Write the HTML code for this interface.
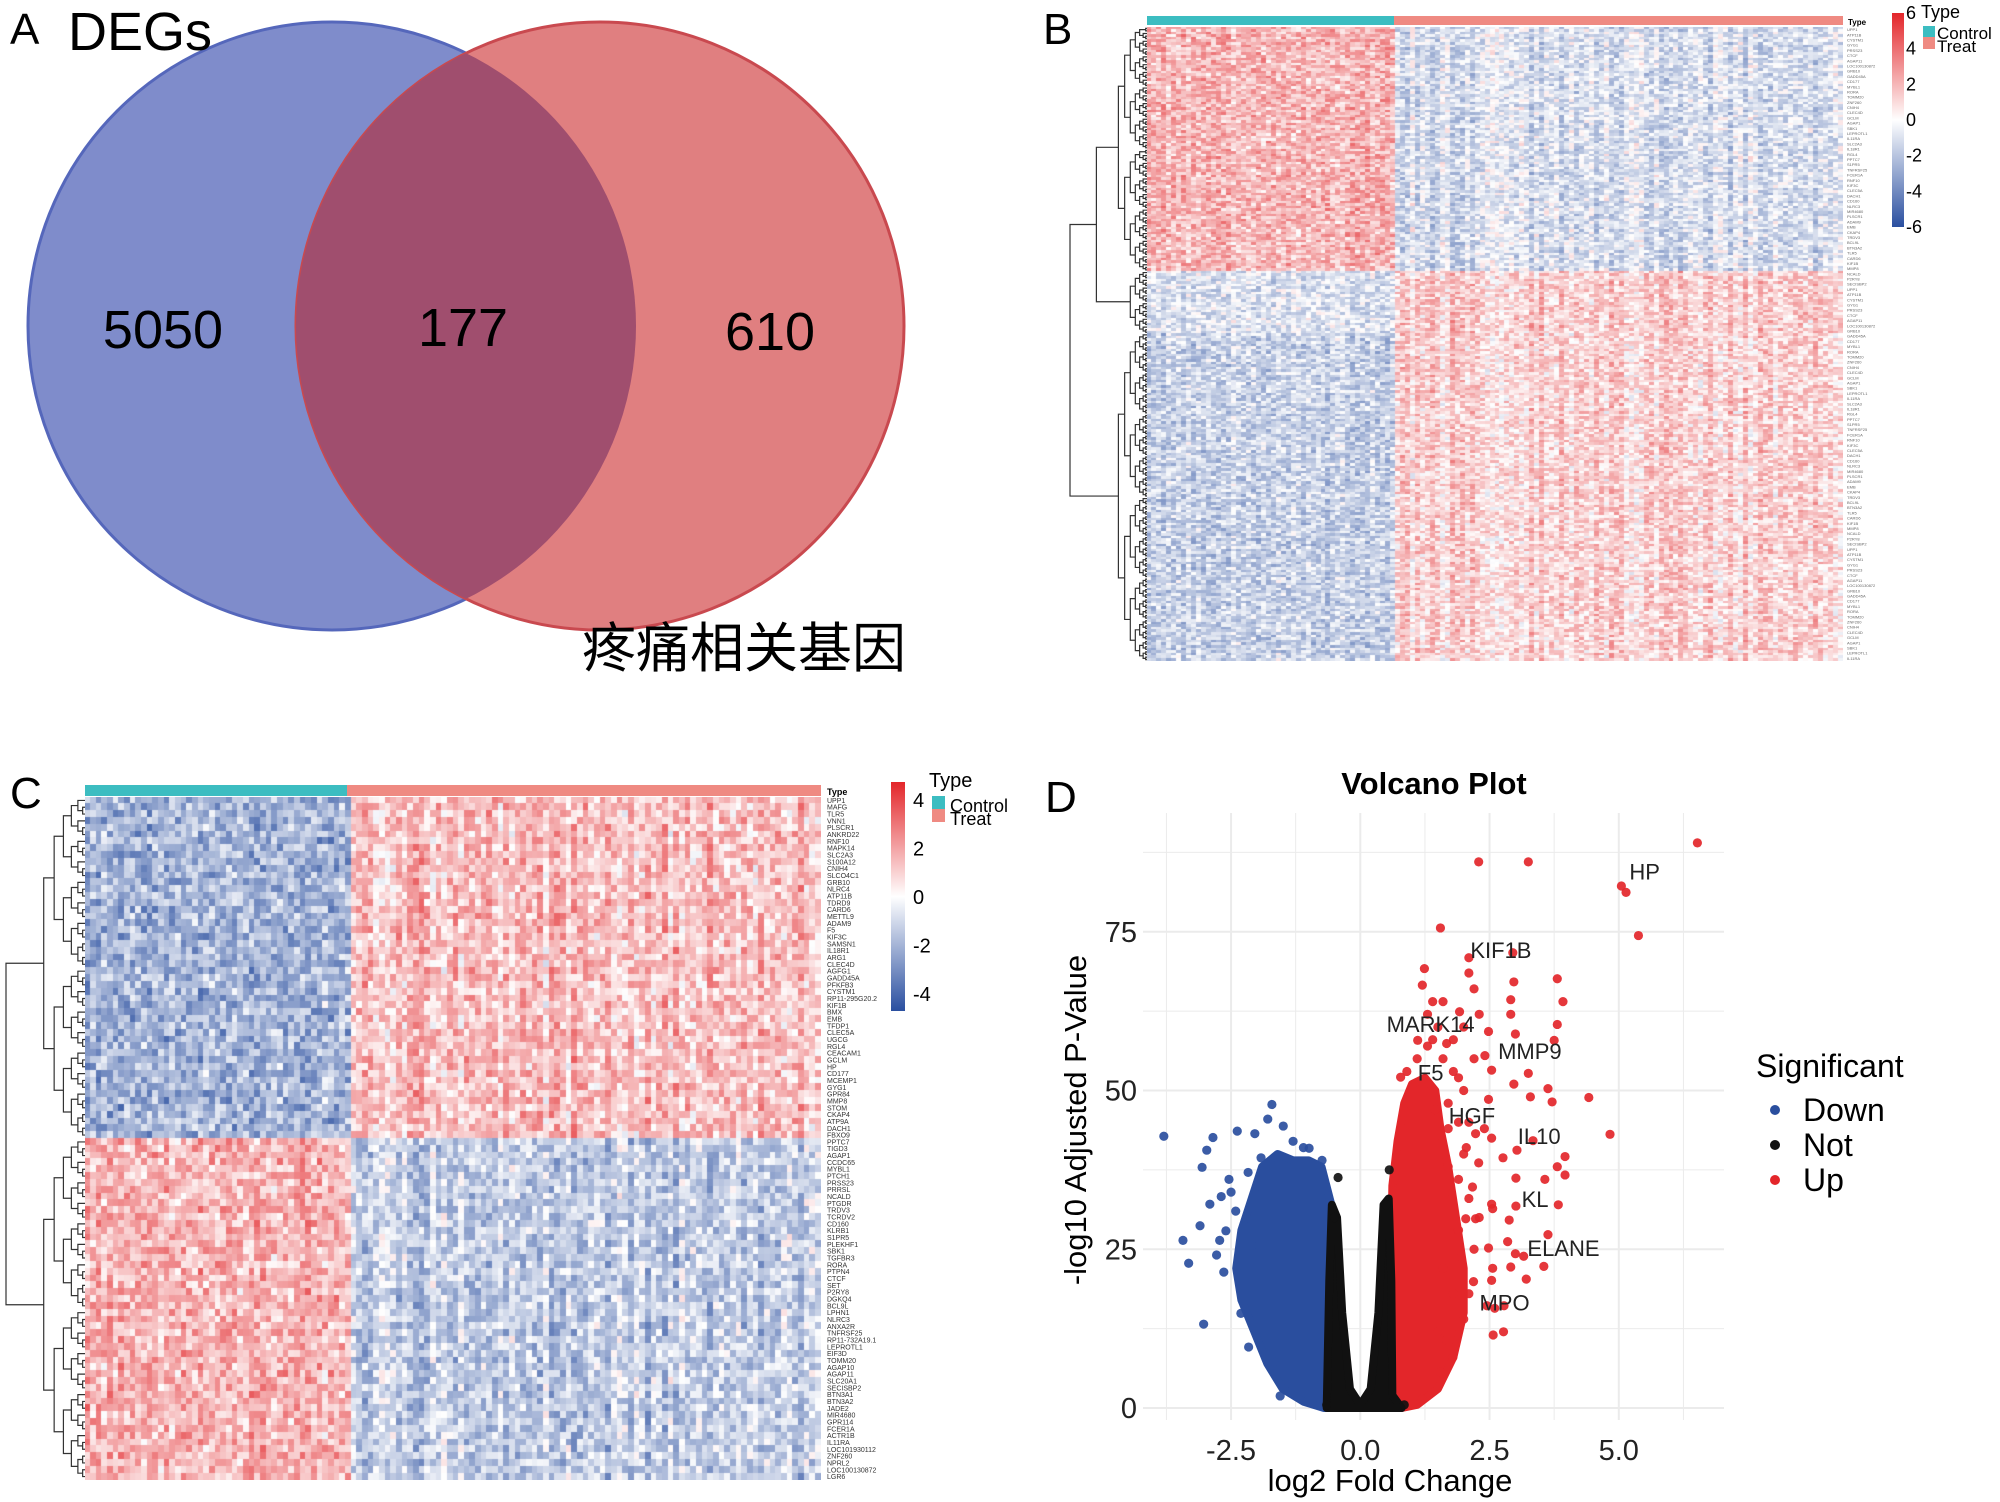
<!DOCTYPE html>
<html><head><meta charset="utf-8">
<style>
html,body{margin:0;padding:0;background:#fff;}
#root{position:relative;width:2000px;height:1502px;overflow:hidden;background:#fff;font-family:"Liberation Sans","Noto Sans CJK SC",sans-serif;}
canvas{position:absolute;}
svg{position:absolute;left:0;top:0;}
</style></head>
<body>
<div id="root">
<canvas id="hmB" style="left:1147px;top:27px" width="696" height="634"></canvas>
<canvas id="hmC" style="left:85px;top:797px" width="736" height="683"></canvas>
<svg id="main" width="2000" height="1502">
<defs>
<linearGradient id="cbar" x1="0" y1="0" x2="0" y2="1">
<stop offset="0" stop-color="#e3262a"/><stop offset="0.5" stop-color="#ffffff"/><stop offset="1" stop-color="#2a4fa0"/>
</linearGradient>
<clipPath id="clipBlue"><circle cx="332" cy="326" r="304"/></clipPath>
</defs>
<g>
<circle cx="332" cy="326" r="304" fill="#7f8ccb" stroke="#5567bb" stroke-width="3"/>
<circle cx="600" cy="326" r="304" fill="#e07f80" stroke="#c9494f" stroke-width="3"/>
<circle cx="600" cy="326" r="304" fill="#a04e6e" clip-path="url(#clipBlue)"/>
<text x="10" y="44" font-size="44">A</text>
<text x="68" y="50" font-size="54">DEGs</text>
<text x="163" y="348" font-size="54" text-anchor="middle">5050</text>
<text x="463" y="346" font-size="54" text-anchor="middle">177</text>
<text x="770" y="350" font-size="54" text-anchor="middle">610</text>
<text x="582" y="667" font-size="54" font-family="'Liberation Sans','Noto Sans CJK SC',sans-serif">疼痛相关基因</text>
</g>
<text x="1043" y="44" font-size="44">B</text>
<text x="10" y="808" font-size="44">C</text>
<text x="1045" y="812" font-size="44">D</text>
<g id="bLayer"></g>
<g id="cLayer"></g>
<g id="dLayer"></g>
</svg>
</div>
<script>
const geneNamesC = ["UPP1","MAFG","TLR5","VNN1","PLSCR1","ANKRD22","RNF10","MAPK14","SLC2A3","S100A12","CNIH4","SLCO4C1","GRB10","NLRC4","ATP11B","TDRD9","CARD6","METTL9","ADAM9","F5","KIF3C","SAMSN1","IL18R1","ARG1","CLEC4D","AGFG1","GADD45A","PFKFB3","CYSTM1","RP11-295G20.2","KIF1B","BMX","EMB","TFDP1","CLEC5A","UGCG","RGL4","CEACAM1","GCLM","HP","CD177","MCEMP1","GYG1","GPR84","MMP8","STOM","CKAP4","ATP9A","DACH1","FBXO9","PPTC7","TIGD3","AGAP1","CCDC65","MYBL1","PTCH1","PRSS23","PRRSL","NCALD","PTGDR","TRDV3","TCRDV2","CD160","KLRB1","S1PR5","PLEKHF1","SBK1","TGFBR3","RORA","PTPN4","CTCF","SET","P2RY8","DGKQ4","BCL9L","LPHN1","NLRC3","ANXA2R","TNFRSF25","RP11-732A19.1","LEPROTL1","EIF3D","TOMM20","AGAP10","AGAP11","SLC20A1","SECISBP2","BTN3A1","BTN3A2","JADE2","MIR4680","GPR114","FCER1A","ACTR1B","IL11RA","LOC101930112","ZNF260","NPRL2","LOC100130872","LGR6"];
// row blocks: [rowCount, controlMean, treatMean]
const blocksB = [[94,1.3,-0.7],[24,-0.6,0.9],[126,-1.0,0.8]];
const blocksC = [[50,-1.5,1.0],[50,1.2,-1.0]];
const controlFracB = 0.355, controlFracC = 0.356;
const colsB = 140, colsC = 130;

function hash(a,b,s){let h=(a*374761393+b*668265263+s*2147483647)|0;h=(h^(h>>>13))*1274126177|0;h=h^(h>>>16);return ((h>>>0)%10000)/10000;}
function col(v,max){
  let t=Math.max(-1,Math.min(1,v/max));
  let r,g,b;
  if(t>=0){r=255+(227-255)*t;g=255+(38-255)*t;b=255+(42-255)*t;}
  else{t=-t;r=255+(42-255)*t;g=255+(79-255)*t;b=255+(160-255)*t;}
  return `rgb(${r|0},${g|0},${b|0})`;
}
function drawHeat(id,blocks,cols,cf,max,seed){
  const cv=document.getElementById(id),ctx=cv.getContext('2d');
  const W=cv.width,H=cv.height;
  const rows=blocks.reduce((s,b)=>s+b[0],0);
  const cw=W/cols,rh=H/rows;
  const colEff=[];for(let j=0;j<cols;j++)colEff.push((hash(j,7,seed)-0.5)*1.4);
  let r0=0;
  blocks.forEach(b=>{
    for(let i=0;i<b[0];i++){
      const ri=r0+i;
      for(let j=0;j<cols;j++){
        const ctrl=(j/cols)<cf;
        const m=ctrl?b[1]:b[2];
        const v=m*(0.55+0.6*hash(ri,j,seed))+colEff[j]*(ctrl?0.5:1)*Math.sign(m||1)*0.6+(hash(j,ri,seed+3)-0.5)*1.6;
        ctx.fillStyle=col(v,max);
        ctx.fillRect(Math.floor(j*cw),Math.floor(ri*rh),Math.ceil(cw)+1,Math.ceil(rh)+1);
      }
    }
    r0+=b[0];
  });
}
drawHeat('hmB',blocksB,colsB,controlFracB,3.4,11);
drawHeat('hmC',blocksC,colsC,controlFracC,3.0,29);

const NS='http://www.w3.org/2000/svg';
function mk(tag,attrs,parent){const e=document.createElementNS(NS,tag);for(const k in attrs)e.setAttribute(k,attrs[k]);parent.appendChild(e);return e;}

function dendro(g,x0,x1,y0,rowH,blockSizes){
  function build(s,e){
    if(e-s===1){return {y:y0+(s+0.5)*rowH,d:0};}
    const m=Math.floor((s+e)/2);
    const a=build(s,m),b=build(m,e);
    return {a,b,y:(a.y+b.y)/2,d:Math.max(a.d,b.d)+1};
  }
  let s=0;const tops=[];
  blockSizes.forEach(k=>{tops.push(build(s,s+k));s+=k;});
  let root=tops[0];for(let i=1;i<tops.length;i++){root={a:root,b:tops[i],y:(root.y+tops[i].y)/2,d:Math.max(root.d,tops[i].d)+3};}
  const maxd=root.d;
  function xOf(nd){return nd.d===0?x1:x1-(x1-x0)*Math.pow(nd.d/maxd,1.6);}
  function draw(nd){
    if(!nd.a)return;
    const x=xOf(nd);
    const p=mk('path',{d:`M${xOf(nd.a)},${nd.a.y}H${x}V${nd.b.y}H${xOf(nd.b)}`,fill:'none',stroke:'#333','stroke-width':1.2},g);
    
    
    draw(nd.a);draw(nd.b);
  }
  draw(root);
}

// ---------- Panel B ----------
const bL=document.getElementById('bLayer');
mk('rect',{x:1147,y:16,width:247,height:9,fill:'#3cbdc1',},bL);
mk('rect',{x:1394,y:16,width:449,height:9,fill:'#ef8a82',},bL);
mk('text',{x:1848,y:25,'font-size':8,'font-weight':'bold',},bL).textContent='Type';
dendro(bL,1070,1147,27,634/244,[94,24,126]);
for(let i=0;i<244;i+=2){
  const t=mk('text',{x:1847,y:27+(i+1)*634/244+1.5,'font-size':4,fill:'#666'},bL);
  
  
  t.textContent=geneNamesC[(i*7)%geneNamesC.length];
}
mk('rect',{x:1892,y:13,width:12,height:214,fill:'url(#cbar)',},bL);
const bTicks=[6,4,2,0,-2,-4,-6];
bTicks.forEach(v=>{const t=mk('text',{x:1906,y:13+(6-v)/12*214+6,'font-size':18},bL);
t.textContent=String(v);});
mk('text',{x:1921,y:18,'font-size':18,},bL).textContent='Type';
mk('rect',{x:1923,y:26,width:12,height:11,fill:'#3cbdc1',},bL);
mk('rect',{x:1923,y:37,width:12,height:12,fill:'#ef8a82',},bL);
mk('text',{x:1937,y:39,'font-size':17,},bL).textContent='Control';
mk('text',{x:1937,y:52,'font-size':17,},bL).textContent='Treat';

// ---------- Panel C ----------
const cL=document.getElementById('cLayer');
mk('rect',{x:85,y:785,width:262,height:11,fill:'#3cbdc1',},cL);
mk('rect',{x:347,y:785,width:474,height:11,fill:'#ef8a82',},cL);
mk('text',{x:827,y:795,'font-size':9,'font-weight':'bold',},cL).textContent='Type';
dendro(cL,6,85,797,683/100,[50,50]);
geneNamesC.forEach((g,i)=>{const t=mk('text',{x:827,y:797+(i+0.5)*6.83+2.5,'font-size':7,fill:'#333'},cL);
t.textContent=g;});
mk('rect',{x:891,y:782,width:14,height:229,fill:'url(#cbar)',},cL);
const cTicks=[4,2,0,-2,-4];
cTicks.forEach(v=>{const t=mk('text',{x:913,y:897-v*24.2+7,'font-size':20},cL);
t.textContent=String(v);});
mk('text',{x:929,y:787,'font-size':20,},cL).textContent='Type';
mk('rect',{x:932,y:796,width:13,height:13,fill:'#3cbdc1',},cL);
mk('rect',{x:932,y:809,width:13,height:13,fill:'#ef8a82',},cL);
mk('text',{x:950,y:812,'font-size':18,},cL).textContent='Control';
mk('text',{x:950,y:825,'font-size':18,},cL).textContent='Treat';

// ---------------- Volcano data ----------------
const xTicks=[-2.5,0.0,2.5,5.0];
const yTicks=[0,25,50,75];
const downEnvelope=[[-0.6,0],[-0.58,15],[-0.56,32],[-0.75,38],[-1.0,39],[-1.3,39],[-1.6,40],[-1.9,38],[-2.1,33],[-2.3,28],[-2.4,22],[-2.3,17],[-2.05,12],[-1.8,7],[-1.5,3],[-1.1,1],[-0.7,0]];
const notEnvelope=[[-0.65,0],[-0.6,20],[-0.55,32],[-0.45,30],[-0.35,15],[-0.2,3],[0,0.5],[0.2,3],[0.35,15],[0.45,32],[0.55,33],[0.6,20],[0.62,2],[0.8,0]];
const upEnvelope=[[0.6,0],[0.6,25],[0.62,35],[0.72,42],[0.85,48],[1.0,51],[1.25,52],[1.45,50],[1.55,44],[1.7,38],[1.85,30],[2.0,22],[2.0,15],[1.8,8],[1.5,3],[1.1,0.5],[0.8,0]];
const upX=[6.52,2.29,3.25,5.05,5.14,5.38,1.55,2.10,2.95,1.24,2.10,2.97,3.81,1.2,3.92,2.91,1.92,2.91,3.81,2.48,3.0,3.75,1.11,1.67,2.41,2.54,3.25,2.97,0.78,3.63,3.29,3.71,4.42,4.83,2.48,2.23,2.54,3.34,3.03,3.96,2.76,2.29,3.81,3.96,3.01,3.57,2.17,2.54,3.01,3.83,2.56,2.88,2.04,2.23,3.63,2.85,2.48,3.0,3.16,3.55,2.91,2.56,3.21,2.54,2.19,2.1,2.45,2.78,2.6,2.77,2.57,1.67,1.79,1.55,1.2,1.6,1.8,1.5,1.9,2.0,1.7,2.1,1.9,2.2,1.8,2.0,1.4,1.3,1.6,1.8,2.0,2.2,1.7,2.1,1.9,2.3,1.6,1.5,2.3,2.4,2.0,1.4,2.2,1.9,1.1,0.9,1.3,1.45,1.7,2.05];
const upY=[89,86,86,82.2,81.2,74.4,75.6,70.9,71.7,69.2,68.5,67.1,67.6,66.6,64,64.3,62.4,62,60.4,59.3,58.9,57.9,57.9,57.4,55.5,53.2,52.7,51,52.1,50.3,49,48.2,48.9,43.1,48.6,43.2,42.5,42.1,40.6,39.6,39.4,38.6,38,36.7,36.2,36,34.8,32.1,31.8,32,31.4,29.6,29.8,29.8,27.3,26.2,25.2,24.3,23.9,22.3,22.2,22,20.3,20.1,19.9,18,16.1,16.1,15.7,12,11.5,10.7,8,5.7,1.4,55,53,60,45,40,38,33,28,25,18,14,58,62,64,58,50,55,48,45,36,30,22,12,62,44,60,64,66,52,55,53,57,47,44,41];
const downX=[-3.8,-3.03,-3.43,-3.32,-3.1,-3.06,-2.97,-2.85,-2.91,-2.69,-2.64,-2.72,-2.38,-2.54,-2.31,-2.16,-1.55,-1.71,-1.79,-1.49,-2.04,-0.99,-0.74,-1.92,-2.17,-2.6,-2.78,-1.67,-2.41,-2.1,-2.5,-2.2,-1.3,-1.1];
const downY=[42.8,13.2,26.4,22.8,28.7,37.9,40.6,42.6,32.1,33.3,21.4,26.4,43.6,36,14.9,9.6,1.9,47.8,45.5,44.4,43.2,40.9,39,39.4,37.1,27.9,24.1,7.3,31,25.6,34,30,42,41];
const notX=[-0.43,0.56,-0.5,0.5,0.85,-0.65];
const notY=[36.3,37.5,30,32,0.5,0.5];
const geneLabels=["HP","KIF1B","MARK14","MMP9","F5","HGF","IL10","KL","ELANE","MPO"];
const labelX=[5.5,2.72,1.36,3.28,1.36,2.16,3.46,3.38,3.93,2.79];
const labelY=[84.5,72.1,60.5,56.2,52.8,46.1,42.8,32.9,25.2,16.6];

const X0=1360.3, XS=51.7, Y0=1408, YS=6.35;
const PT=813, PB=1420;
const sx=v=>X0+v*XS, sy=v=>Y0-v*YS;
const dL=document.getElementById('dLayer');
mk('rect',{x:1143,y:PT,width:581,height:PB-PT,fill:'#fff',},dL);
for(let v=-3.75;v<=6.3;v+=1.25){const major=Math.abs((v/2.5)-Math.round(v/2.5))<1e-6;
 const l=mk('line',{x1:sx(v),x2:sx(v),y1:PT,y2:PB,stroke:'#ebebeb','stroke-width':major?2:1},dL);
 }
for(let v=-12.5;v<=95;v+=12.5){if(sy(v)>PB||sy(v)<PT)continue;const major=Math.abs((v/25)-Math.round(v/25))<1e-6;
 const l=mk('line',{x1:1143,x2:1724,y1:sy(v),y2:sy(v),stroke:'#ebebeb','stroke-width':major?2:1},dL);
 }
function env(arr,color,name){
  const d='M'+arr.map(p=>sx(p[0])+','+sy(p[1])).join('L')+'Z';
  const p=mk('path',{d,fill:color,stroke:color,'stroke-width':8,'stroke-linejoin':'round'},dL);
  
}
env(downEnvelope,'#2a4e9e','down-point-cloud');
env(upEnvelope,'#e3262a','up-point-cloud');
env(notEnvelope,'#111111','not-point-cloud');
function pts(xs,ys,color,name){xs.forEach((x,i)=>{const c=mk('circle',{cx:sx(x),cy:sy(ys[i]),r:4.6,fill:color,'fill-opacity':0.92},dL);
 });}
pts(downX,downY,'#2a4e9e','down-point');
pts(upX,upY,'#e3262a','up-point');
pts(notX,notY,'#111111','not-point');
geneLabels.forEach((g,i)=>{const t=mk('text',{x:sx(labelX[i]),y:sy(labelY[i])+8,'font-size':22,'text-anchor':'middle',fill:'#222'},dL);
 t.textContent=g;});
xTicks.forEach(v=>{const t=mk('text',{x:sx(v),y:1460,'font-size':29,'text-anchor':'middle',fill:'#222'},dL);
 t.textContent=v.toFixed(1);});
yTicks.forEach(v=>{const t=mk('text',{x:1137,y:sy(v)+10,'font-size':29,'text-anchor':'end',fill:'#222'},dL);
 t.textContent=String(v);});
mk('text',{x:1390,y:1491,'font-size':31,'text-anchor':'middle',},dL).textContent='log2 Fold Change';
mk('text',{x:0,y:0,'font-size':31,'text-anchor':'middle',transform:'translate(1086,1120) rotate(-90)',},dL).textContent='-log10 Adjusted P-Value';
mk('text',{x:1434,y:794,'font-size':31,'font-weight':'bold','text-anchor':'middle',},dL).textContent='Volcano Plot';
mk('text',{x:1756,y:1077,'font-size':32,},dL).textContent='Significant';
const legNames=['Down','Not','Up'], legCols=['#2a4e9e','#111111','#e3262a'];
legNames.forEach((n,i)=>{
 const y=1110+i*35;
 const c=mk('circle',{cx:1775,cy:y,r:5,fill:legCols[i]},dL);
 
 const t=mk('text',{x:1803,y:y+11,'font-size':32},dL);
 t.textContent=n;
});
</script>
</body></html>
